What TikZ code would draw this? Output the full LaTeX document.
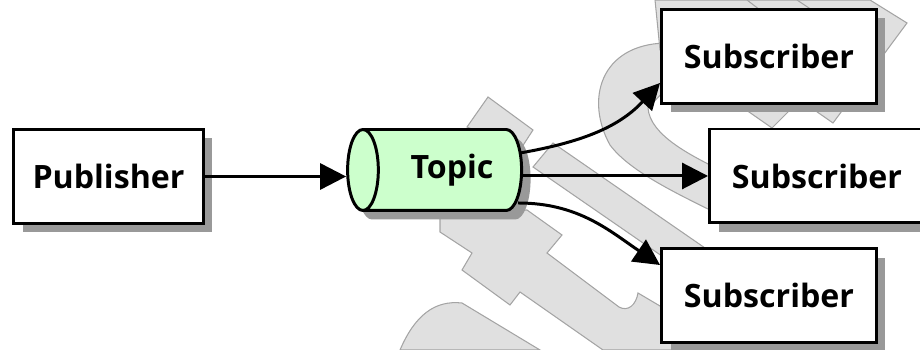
\documentclass[tikz,border=0pt]{standalone}
\usepackage{fontspec}
\setmainfont{Open Sans}
\usetikzlibrary{%
	arrows.meta,%
	shapes.geometric,%
	shadows
}
\definecolor{topic-green}{HTML}{CCFFCC}
\definecolor{mark-fill}{HTML}{E0E0E0}
\definecolor{mark-line}{HTML}{A4A4A4}

\begin{document}
\begin{tikzpicture}[x=0.02cm,y=-0.02cm,
		shade/.style={drop shadow={shadow xshift=0.18cm,shadow yshift=-0.18cm,fill=black!40,opacity=1}},
		box/.style={draw,line width=1.7pt,fill=white,shade,minimum height=1.88cm,
			font=\bfseries\fontsize{18.3}{22}\selectfont},
		topic/.style={cylinder,shape border rotate=180,aspect=0.7,draw,line width=1.7pt,
			fill=topic-green,shade,minimum width=1.62cm,minimum height=3.48cm,
			font=\bfseries\fontsize{18.3}{22}\selectfont},
		flow/.style={line width=1.7pt,-{Triangle[length=0.52cm,width=0.52cm]}},
		backmark/.style={fill=mark-fill,draw=mark-line,line width=0.6pt}
	]
	\useasboundingbox (0,0) rectangle (920,350);
	
	% Background mark
	\draw[backmark] (467,127) -- (488,97) -- (533,130) -- (520,150) -- cycle;
	\draw[backmark] (533,167) -- (553,143) -- (705,248) -- (685,272) -- cycle;
	\draw[backmark] (440,212) -- (440,232) -- (472,253) -- (462,270) -- (510,305) -- (520,292)
		-- (603,350) -- (700,350) -- (660,306) -- (638,293) .. controls (636,305) and (628,312) .. (619,307)
		-- (547,253) -- (562,235) -- (527,210) -- cycle;
	\draw[backmark] (400,350) .. controls (415,315) and (435,300) .. (462,303) -- (540,350) -- cycle;
	\draw[backmark] (665,43) .. controls (600,45) and (585,100) .. (610,145)
		.. controls (630,172) and (680,195) .. (720,215) -- (720,170)
		.. controls (690,155) and (650,135) .. (648,108) -- (665,90) -- cycle;
	\draw[backmark] (655,0) -- (870,0) -- (907,23) -- (833,123) -- (800,100) -- (772,128) -- (660,50) -- cycle;
	\draw[mark-line,line width=0.6pt] (747,0) -- (760,10) (797,0) -- (812,10);
	
	% Nodes
	\node[box,minimum width=3.8cm] (pub) at (108.5,176.5) {Publisher};
	\node[topic] (topic) at (447,170) {\hspace*{0.2cm}Topic};
	\node[box,minimum width=4.3cm] (sub1) at (769,56.5) {Subscriber};
	\node[box,minimum width=4.3cm] (sub2) at (817,176) {Subscriber};
	\node[box,minimum width=4.3cm] (sub3) at (769,295.5) {Subscriber};
	
	% Connectors
	\draw[flow] (pub.east) -- (pub.east -| topic.west);
	\draw[flow] (topic.east |- sub2.west) -- (sub2.west);
	\draw[flow] ([shift={(-0.06cm,0.34cm)}]topic.east) to[out=10,in=227] ([yshift=-0.53cm]sub1.west);
	\draw[flow] ([shift={(-0.1cm,-0.66cm)}]topic.east) to[out=0,in=146] ([yshift=0.61cm]sub3.west);
\end{tikzpicture}
\end{document}
